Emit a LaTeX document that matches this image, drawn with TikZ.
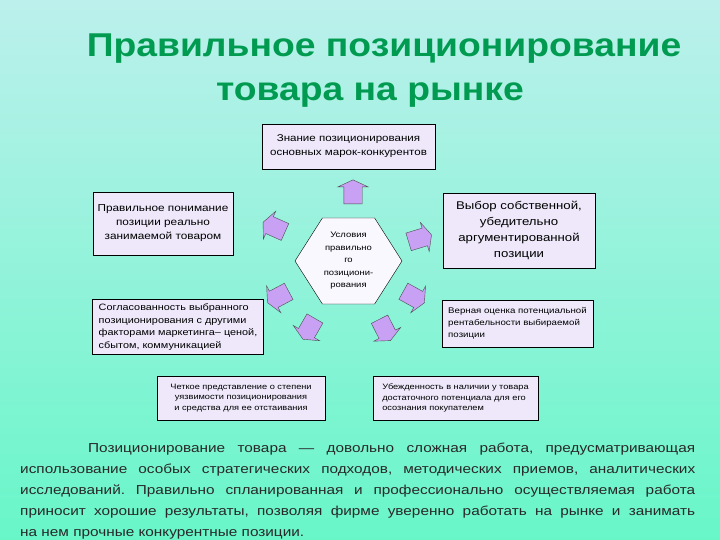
\documentclass[tikz,border=0pt]{standalone}
\usepackage{fontspec}
\setmainfont{Liberation Sans}
\newfontfamily\boxfont[FakeStretch=1.18]{Liberation Sans}
\newfontfamily\titlefont[FakeStretch=1.13]{Liberation Sans}
\usetikzlibrary{shapes,arrows}

\definecolor{bgTop}{RGB}{188,240,236}
\definecolor{bgBot}{RGB}{104,246,200}
\definecolor{titleGreen}{RGB}{0,155,80}
\definecolor{boxFill}{RGB}{238,232,250}
\definecolor{hexFill}{RGB}{250,248,255}
\definecolor{arrFill}{RGB}{200,160,244}
\definecolor{paraGray}{RGB}{40,40,40}

\begin{document}
\frenchspacing
\begin{tikzpicture}[x=1pt,y=-1pt]
	\shade[top color=bgTop, bottom color=bgBot] (0,0) rectangle (720,540);
	\useasboundingbox (0,0) rectangle (720,540);

	\node(title1)[anchor=base, text=titleGreen, font=\titlefont\bfseries\fontsize{33}{40}\selectfont] at (384,57) {Правильное позиционирование};
	\node(title2)[anchor=base, text=titleGreen, font=\titlefont\bfseries\fontsize{33}{40}\selectfont] at (370,101) {товара на рынке};

	\begin{scope}
		[
			styleBox/.style 2 args={draw, fill=boxFill, inner sep=2pt,
				font=\boxfont\fontsize{#1}{#2}\selectfont},
			styleHex/.style={draw, fill=hexFill, signal, signal to=west and east,
				signal pointer angle=115, minimum width=107pt, minimum height=86pt,
				inner sep=0pt, align=center, font=\boxfont\fontsize{8}{12.5}\selectfont},
		]
		\node(know)[styleBox={9.8}{14}, minimum width=173pt, minimum height=45pt, align=center] at (348.5,146.5) {Знание позиционирования\\основных марок-конкурентов};
		\node(underst)[styleBox={10}{14}, minimum width=140pt, minimum height=63pt, align=center] at (163,223.5) {Правильное понимание\\позиции реально\\занимаемой товаром};
		\node(agree)[styleBox={9.2}{12.5}, minimum width=171pt, minimum height=55pt, align=left] at (178,327) {Согласованность выбранного\\ позиционирования с другими\\факторами маркетинга– ценой,\\сбытом, коммуникацией};
		\node(choice)[styleBox={11.2}{16}, minimum width=152pt, minimum height=75pt, align=center] at (519,230.5) {Выбор собственной,\\убедительно\\аргументированной\\позиции};
		\node(estim)[styleBox={8.2}{12}, minimum width=151pt, minimum height=47pt, align=left] at (517.5,323.5) {Верная оценка потенциальной\\ рентабельности выбираемой\\позиции};
		\node(clear)[styleBox={7.8}{10.5}, minimum width=168pt, minimum height=44pt, align=center] at (241,398) {Четкое представление о степени\\уязвимости позиционирования\\и средства для ее отстаивания};
		\node(belief)[styleBox={7.8}{10.5}, minimum width=165pt, minimum height=44pt, align=left] at (455.5,398) {Убежденность в наличии у товара\\достаточного потенциала для его\\осознания покупателем};
		\node(cond)[styleHex] at (348.5,261) {Условия\\правильно\\го\\позициони-\\рования};
	\end{scope}

	\begin{scope}
		[
			styleArr/.style={draw=black!70, fill=arrFill, single arrow, inner sep=9pt,
				minimum height=24pt,
				single arrow head extend=6pt, single arrow tip angle=130,
				rotate=#1},
		]
		\node(aUp)[styleArr=90] at (353,194) {};
		\node(aUL)[styleArr=156] at (276,228) {};
		\node(aLL)[styleArr=208] at (280,296) {};
		\node(aBL)[styleArr=240] at (310,327) {};
		\node(aUR)[styleArr=17] at (418,239) {};
		\node(aLR)[styleArr=-29] at (412,296) {};
		\node(aBR)[styleArr=-63] at (384,328) {};
	\end{scope}

	\node(para)[anchor=north west, text width=675pt, align=justify, inner sep=0pt, text=paraGray,
		font=\boxfont\fontsize{13}{21}\selectfont] at (20,443) {\hspace*{68pt}Позиционирование товара — довольно сложная работа, предусматривающая\linebreak
		использование особых стратегических подходов, методических приемов, аналитических\linebreak
		исследований. Правильно спланированная и профессионально осуществляемая работа\linebreak
		приносит хорошие результаты, позволяя фирме уверенно работать на рынке и занимать\linebreak
		на нем прочные конкурентные позиции.};
\end{tikzpicture}
\end{document}
